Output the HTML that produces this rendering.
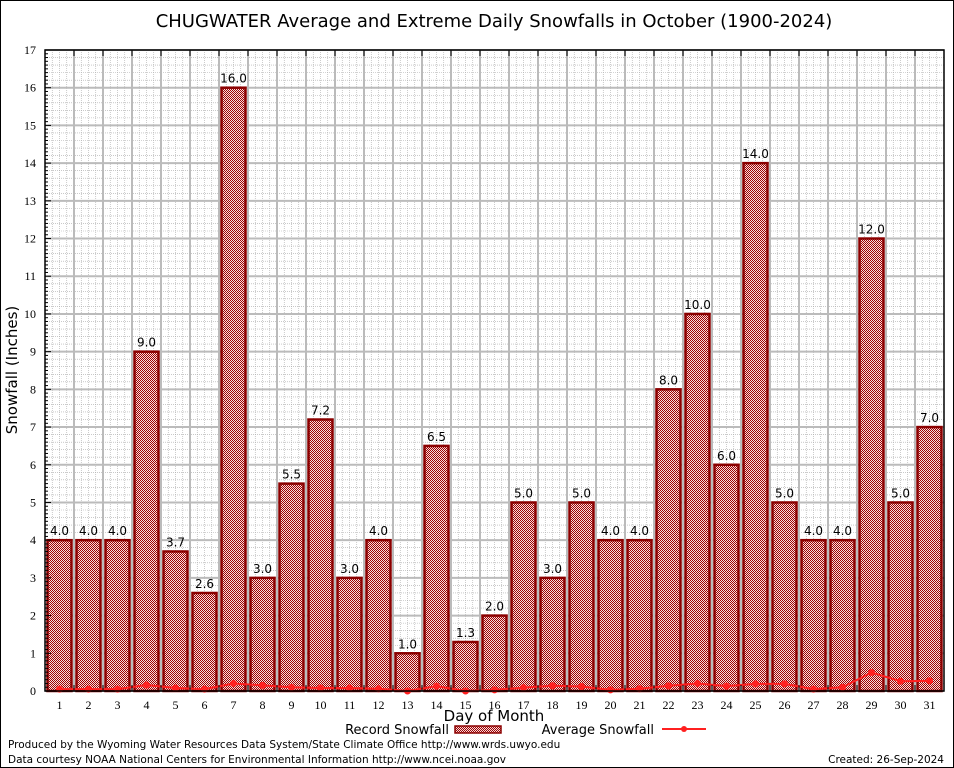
<!DOCTYPE html>
<html><head><meta charset="utf-8"><style>
body{margin:0;background:#fff;}
svg{display:block;font-family:"DejaVu Sans",sans-serif;}
</style></head><body>
<svg id="chart" width="954" height="768" viewBox="0 0 954 768">
<defs>
<pattern id="hatch" width="2" height="2" patternUnits="userSpaceOnUse">
<rect width="2" height="2" fill="#f4dede"/>
<rect width="1" height="1" fill="#a00000"/><rect x="1" y="1" width="1" height="1" fill="#a00000"/>
</pattern>
</defs>
<rect x="0.5" y="0.5" width="953" height="767" fill="#fff" stroke="#000"/>
<text x="494" y="27" font-size="18" text-anchor="middle" fill="#000">CHUGWATER Average and Extreme Daily Snowfalls in October (1900-2024)</text>
<g id="grid"></g>
<g id="bars"></g>
<g id="avg"></g>
<g id="axes"></g>
<text x="17" y="370" font-size="15" text-anchor="middle" transform="rotate(-90 17 370)">Snowfall (Inches)</text>
<text x="494" y="721" font-size="15" text-anchor="middle">Day of Month</text>
<g>
<text x="449" y="734" font-size="13" text-anchor="end">Record Snowfall</text>
<rect x="455" y="726" width="46" height="7" fill="url(#hatch)" stroke="#8b0000" stroke-width="1.5"/>
<text x="654" y="734" font-size="13" text-anchor="end">Average Snowfall</text>
<line x1="662" y1="729" x2="706" y2="729" stroke="#ff2020" stroke-width="2"/>
<circle cx="684" cy="729" r="3" fill="#ff2020"/>
</g>
<text x="8" y="748" font-size="10.5">Produced by the Wyoming Water Resources Data System/State Climate Office http://www.wrds.uwyo.edu</text>
<text x="8" y="763" font-size="10.5">Data courtesy NOAA National Centers for Environmental Information http://www.ncei.noaa.gov</text>
<text x="944" y="763" font-size="10.5" text-anchor="end">Created: 26-Sep-2024</text>
</svg>
<script>
const days=[1,2,3,4,5,6,7,8,9,10,11,12,13,14,15,16,17,18,19,20,21,22,23,24,25,26,27,28,29,30,31];
const recordSnow=[4.0,4.0,4.0,9.0,3.7,2.6,16.0,3.0,5.5,7.2,3.0,4.0,1.0,6.5,1.3,2.0,5.0,3.0,5.0,4.0,4.0,8.0,10.0,6.0,14.0,5.0,4.0,4.0,12.0,5.0,7.0];
const avgSnow=[0.05,0.05,0.05,0.16,0.08,0.05,0.2,0.15,0.1,0.08,0.08,0.06,0.0,0.13,0.0,0.03,0.09,0.14,0.12,0.03,0.06,0.14,0.2,0.13,0.19,0.19,0.05,0.1,0.49,0.26,0.27];
const yTicks=[0,1,2,3,4,5,6,7,8,9,10,11,12,13,14,15,16,17];
const NS='http://www.w3.org/2000/svg';
const L=45,R=944,T=50,B=691,YMAX=17;
const bw=(R-L)/days.length;
function xs(d){return L+bw*(d-0.5);}
function ys(v){return B-(B-T)*v/YMAX;}
function mk(tag,attrs,parent){const e=document.createElementNS(NS,tag);for(const k in attrs)e.setAttribute(k,attrs[k]);parent.appendChild(e);return e;}
const grid=document.getElementById('grid');
mk('rect',{x:L,y:T,width:R-L,height:B-T,fill:'#fff'},grid);
for(let v=0;v<YMAX;v+=0.2){const y=ys(v);mk('line',{x1:L,x2:R,y1:y,y2:y,stroke:'#aaa','stroke-width':0.6,'stroke-dasharray':'1,1'},grid);}
for(let i=0;i<days.length*4;i++){const x=L+bw*i/4;mk('line',{x1:x,x2:x,y1:T,y2:B,stroke:'#aaa','stroke-width':0.6,'stroke-dasharray':'1,1'},grid);}
yTicks.forEach(v=>{const y=ys(v);mk('line',{x1:L,x2:R,y1:y,y2:y,stroke:'#bbb','stroke-width':2},grid);});
for(let i=1;i<days.length;i++){const x=L+bw*i;mk('line',{x1:x,x2:x,y1:T,y2:B,stroke:'#bbb','stroke-width':2},grid);}
const bars=document.getElementById('bars');
days.forEach((d,i)=>{
 const v=recordSnow[i];
 const r=mk('rect',{x:xs(d)-12,y:ys(v),width:24,height:B-ys(v),fill:'url(#hatch)',stroke:'#8b0000','stroke-width':2.5},bars);
 
 
 const t=mk('text',{x:xs(d),y:ys(v)-5,'font-size':12,'text-anchor':'middle',fill:'#000'},bars);
 t.textContent=v.toFixed(1);
 
 
});
const avg=document.getElementById('avg');
const pl=mk('polyline',{points:days.map((d,i)=>xs(d)+','+ys(avgSnow[i])).join(' '),fill:'none',stroke:'#ff2020','stroke-width':2},avg);


days.forEach((d,i)=>{
 const c=mk('circle',{cx:xs(d),cy:ys(avgSnow[i]),r:3.5,fill:'#ff2020'},avg);
 
 
});
const axes=document.getElementById('axes');
mk('rect',{x:L,y:T,width:R-L,height:B-T,fill:'none',stroke:'#000','stroke-width':1.5},axes);
for(let v=0;v<=YMAX+0.001;v+=0.1){const y=ys(v);const major=Math.abs(v-Math.round(v))<0.01;mk('line',{x1:L,x2:L+(major?6:3),y1:y,y2:y,stroke:'#000','stroke-width':1},axes);}
yTicks.forEach(v=>{
 const t=mk('text',{x:L-9,y:ys(v)+4,'font-size':12,'text-anchor':'end','font-family':'Liberation Serif, serif'},axes);
 t.textContent=v;
 
 
});
for(let i=1;i<days.length;i++){const x=L+bw*i;mk('line',{x1:x,x2:x,y1:T,y2:T+6,stroke:'#000'},axes);mk('line',{x1:x,x2:x,y1:B,y2:B-6,stroke:'#000'},axes);}
days.forEach(d=>{
 const t=mk('text',{x:xs(d),y:B+18,'font-size':12,'text-anchor':'middle','font-family':'Liberation Serif, serif'},axes);
 t.textContent=d;
 
 
});
</script>
</body></html>
